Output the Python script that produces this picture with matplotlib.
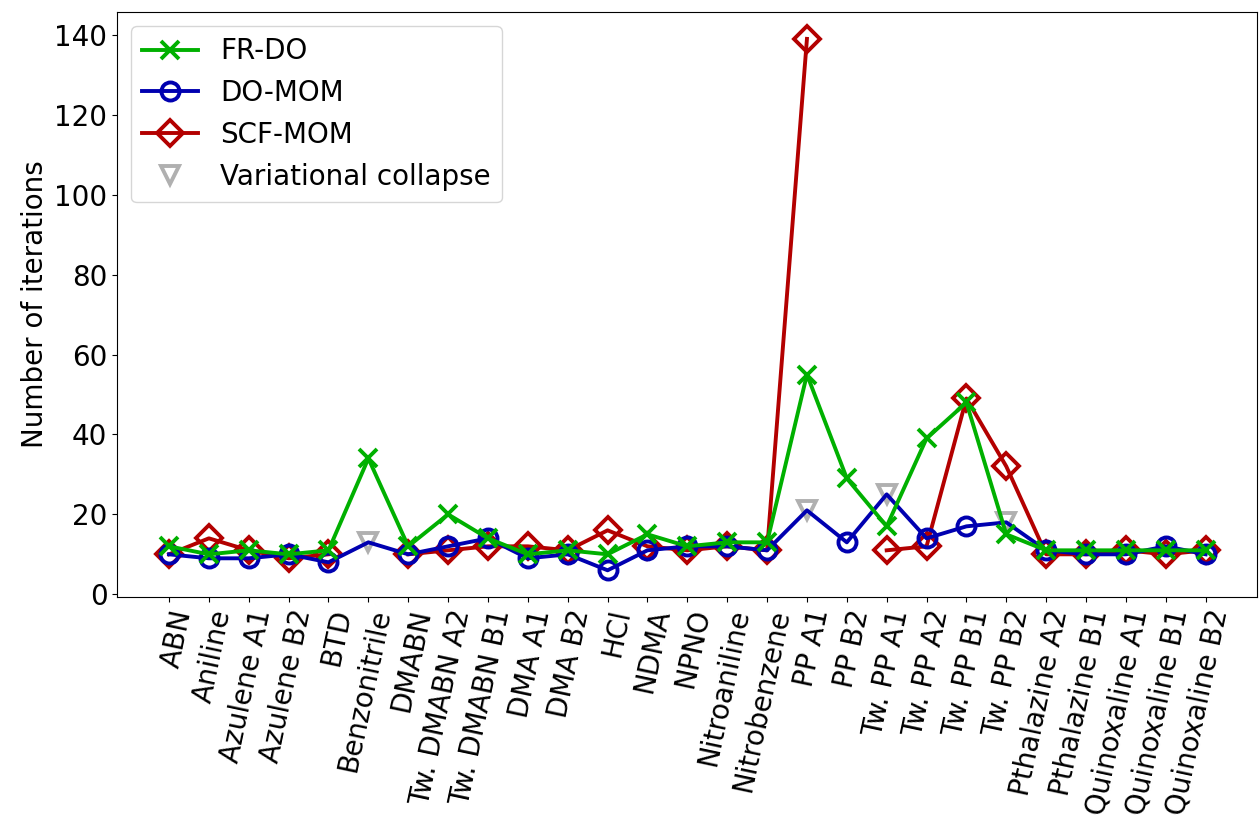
import numpy as np
import matplotlib
matplotlib.use("Agg")
import matplotlib.pyplot as plt

nan = np.nan

systems = ["ABN", "Aniline", "Azulene A1", "Azulene B2", "BTD", "Benzonitrile",
           "DMABN", "Tw. DMABN A2", "Tw. DMABN B1", "DMA A1", "DMA B2", "HCl",
           "NDMA", "NPNO", "Nitroaniline", "Nitrobenzene", "PP A1", "PP B2",
           "Tw. PP A1", "Tw. PP A2", "Tw. PP B1", "Tw. PP B2", "Pthalazine A2",
           "Pthalazine B1", "Quinoxaline A1", "Quinoxaline B1", "Quinoxaline B2"]

fr_do = [12, 10, 11, 10, 11, 34, 12, 20, 14, 10, 11, 10, 15, 12, 13, 13,
         55, 29, 17, 39, 48, 15, 11, 11, 11, 11, 11]
do_mom = [10, 9, 9, 10, 8, 13, 10, 12, 14, 9, 10, 6, 11, 12, 12, 11,
          21, 13, 25, 14, 17, 18, 11, 10, 10, 12, 10]
scf_mom = [10, 14, 11, 9, 10, nan, 10, 11, 12, 12, 11, 16, 12, 11, 12, 11,
           139, nan, 11, 12, 49, 32, 10, 10, 11, 10, 11]

# DO-MOM runs that collapsed to a lower state
collapsed = [5, 16, 18, 21]

x = np.arange(len(systems))
plt.rcParams["font.size"] = 20

fig, ax = plt.subplots(figsize=(12.6, 8.21), dpi=100)
fig.subplots_adjust(left=0.093, right=0.998, top=0.985, bottom=0.273)

kw = dict(lw=2.8, ms=13, mew=2.8, mfc="none")
ok = [i for i in x if i not in collapsed]
vc = [do_mom[i] if i in collapsed else nan for i in x]

ax.plot(x, vc, ls="none", marker="v", color="#b0b0b0", ms=13, mew=2.8,
        mfc="none", label="Variational collapse", zorder=1)
ax.plot(x, scf_mom, marker="D", color="#b30000", label="SCF-MOM", zorder=2, **kw)
ax.plot(x, do_mom, marker="o", color="#0000b0", markevery=ok,
        label="DO-MOM", zorder=3, **kw)
ax.plot(x, fr_do, marker="x", color="#00b000", label="FR-DO", zorder=4, **kw)

handles, labels = ax.get_legend_handles_labels()
order = [3, 2, 1, 0]
ax.legend([handles[i] for i in order], [labels[i] for i in order], loc="upper left")

ax.set_xticks(x)
ax.set_xticklabels(systems, rotation=78, ha="right", rotation_mode="anchor")
ax.set_ylabel("Number of iterations")

fig.savefig("out.png")
